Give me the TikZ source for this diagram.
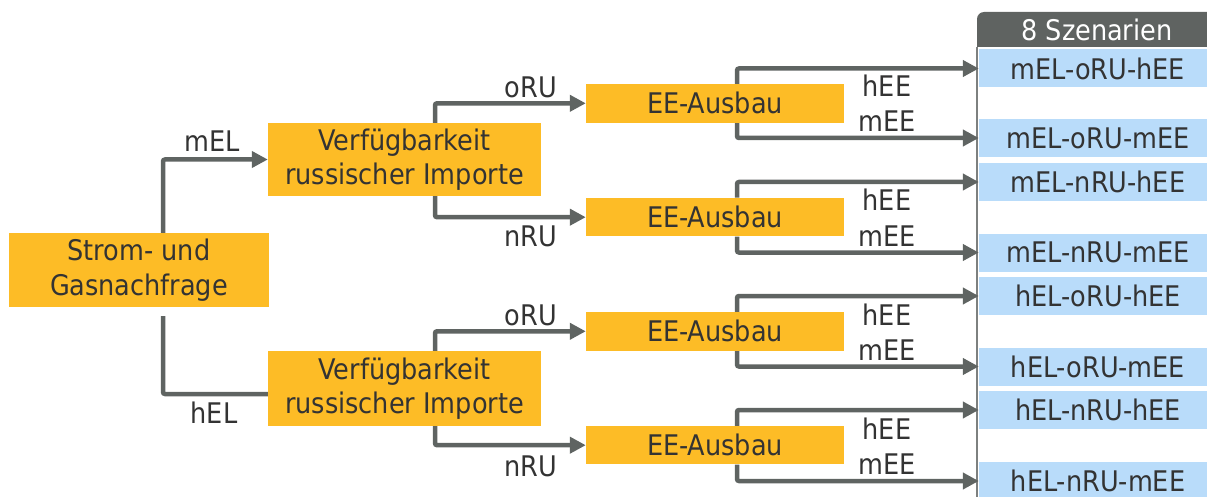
\documentclass[tikz,border=0pt]{standalone}
\usepackage{fontspec}
\setmainfont{DejaVu Sans Condensed}
\usetikzlibrary{arrows.meta}

\definecolor{boxorange}{RGB}{253,188,38}
\definecolor{linegray}{RGB}{95,100,98}
\definecolor{txtgray}{RGB}{51,51,51}
\definecolor{scenblue}{RGB}{185,220,250}
\definecolor{headgray}{RGB}{95,99,97}
\definecolor{railgray}{RGB}{125,128,127}

\tikzset{
  txt/.style={font=\fontsize{28.4}{34.5}\selectfont, text=txtgray, inner sep=0pt},
  stagebox/.style={txt, fill=boxorange, align=center},
  scenbox/.style={txt, fill=scenblue, minimum width=238pt, minimum height=38pt},
  branchlabel/.style={txt, anchor=base},
  link/.style={draw=linegray, line width=4.5pt, rounded corners=2pt},
  branch/.style={link, -{Triangle[length=16pt,width=16pt]}},
}

\begin{document}
\begin{tikzpicture}[x=1pt,y=-1pt]
  \clip (0,0) rectangle (1207,497);

  % x positions of the vertical branch lines
  \coordinate (xa) at (163,0);
  \coordinate (xb) at (435,0);
  \coordinate (xc) at (737,0);

  % scenario column
  \fill[headgray] (977,47) [rounded corners=7pt] -- (977,12) -- (1217,12) [sharp corners] -- (1217,47) -- cycle;
  \node[txt, text=white, anchor=base] (head) at (1097,41) {8 Szenarien};
  \node[scenbox] (s1) at (1098,68.5)  {mEL-oRU-hEE};
  \node[scenbox] (s2) at (1098,138)   {mEL-oRU-mEE};
  \node[scenbox] (s3) at (1098,182)   {mEL-nRU-hEE};
  \node[scenbox] (s4) at (1098,252.5) {mEL-nRU-mEE};
  \node[scenbox] (s5) at (1098,296)   {hEL-oRU-hEE};
  \node[scenbox] (s6) at (1098,366.5) {hEL-oRU-mEE};
  \node[scenbox] (s7) at (1098,410)   {hEL-nRU-hEE};
  \node[scenbox] (s8) at (1098,481)   {hEL-nRU-mEE};
  \coordinate (railtop) at (977,47);
  \coordinate (railbot) at (977,497);
  \draw[railgray, line width=2pt] (railtop) -- (railbot);

  % decision stages (positions only, drawn again on top of the lines below)
  \path
    (139,270)     node[stagebox, minimum width=260pt, minimum height=74pt] (strom) {}
    (404.5,159.5) node[stagebox, minimum width=273pt, minimum height=73pt] (verf1) {}
    (404.5,388.5) node[stagebox, minimum width=273pt, minimum height=75pt] (verf2) {}
    (715,103.3)   node[stagebox, minimum width=258pt, minimum height=38.5pt] (ee1) {}
    (715,217.2)   node[stagebox, minimum width=258pt, minimum height=38.5pt] (ee2) {}
    (715,331.3)   node[stagebox, minimum width=258pt, minimum height=38.5pt] (ee3) {}
    (715,445.2)   node[stagebox, minimum width=258pt, minimum height=38.5pt] (ee4) {};
  \coordinate (hel) at ([yshift=-5.5pt]verf2.west);

  % connectors
  \draw[branch] (strom.north -| xa) |- (verf1.west);
  \draw[link, shorten <=9pt] (strom.south -| xa) |- (hel);
  \draw[branch] (verf1.north -| xb) |- (ee1.west);
  \draw[branch] (verf1.south -| xb) |- (ee2.west);
  \draw[branch] (verf2.north -| xb) |- (ee3.west);
  \draw[branch] (verf2.south -| xb) |- (ee4.west);
  \draw[branch] (ee1.north -| xc) |- (s1.west);
  \draw[branch] (ee1.south -| xc) |- (s2.west);
  \draw[branch] (ee2.north -| xc) |- (s3.west);
  \draw[branch] (ee2.south -| xc) |- (s4.west);
  \draw[branch] (ee3.north -| xc) |- (s5.west);
  \draw[branch] (ee3.south -| xc) |- (s6.west);
  \draw[branch] (ee4.north -| xc) |- (s7.west);
  \draw[branch] (ee4.south -| xc) |- (s8.west);

  % stage boxes with their texts
  \node[stagebox, minimum width=260pt, minimum height=74pt] at (strom) {Strom- und\\Gasnachfrage};
  \node[stagebox, minimum width=273pt, minimum height=73pt] at (verf1) {Verfügbarkeit\\russischer Importe};
  \node[stagebox, minimum width=273pt, minimum height=75pt] at (verf2) {Verfügbarkeit\\russischer Importe};
  \node[stagebox, minimum width=258pt, minimum height=38.5pt] at (ee1) {EE-Ausbau};
  \node[stagebox, minimum width=258pt, minimum height=38.5pt] at (ee2) {EE-Ausbau};
  \node[stagebox, minimum width=258pt, minimum height=38.5pt] at (ee3) {EE-Ausbau};
  \node[stagebox, minimum width=258pt, minimum height=38.5pt] at (ee4) {EE-Ausbau};

  % branch labels
  \node[branchlabel] (lmel) at (212,152) {mEL};
  \node[branchlabel] (lhel) at (214,423) {hEL};
  \node[branchlabel] (loru1) at (531,98)  {oRU};
  \node[branchlabel] (lnru1) at (531,247) {nRU};
  \node[branchlabel] (loru2) at (531,325) {oRU};
  \node[branchlabel] (lnru2) at (531,476) {nRU};
  \node[branchlabel] (lhee1) at (887,97)  {hEE};
  \node[branchlabel] (lmee1) at (887,132) {mEE};
  \node[branchlabel] (lhee2) at (887,211) {hEE};
  \node[branchlabel] (lmee2) at (887,246) {mEE};
  \node[branchlabel] (lhee3) at (887,325) {hEE};
  \node[branchlabel] (lmee3) at (887,360) {mEE};
  \node[branchlabel] (lhee4) at (887,439) {hEE};
  \node[branchlabel] (lmee4) at (887,474) {mEE};
\end{tikzpicture}
\end{document}
